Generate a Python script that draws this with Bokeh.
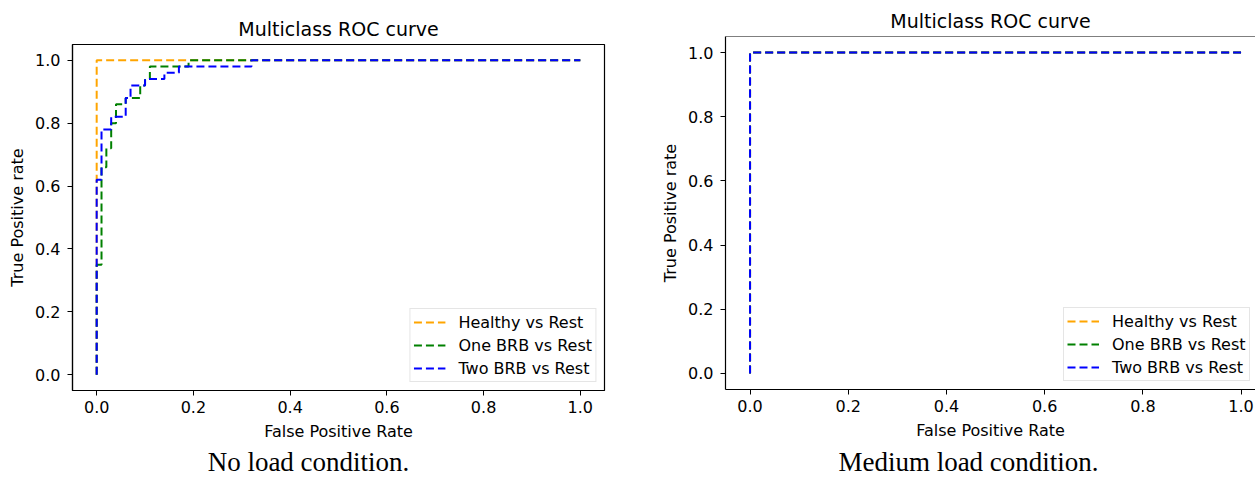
from bokeh.plotting import figure
from bokeh.layouts import row, column
from bokeh.models import FixedTicker, NumeralTickFormatter, Span
from bokeh.core.properties import value
from bokeh.embed import file_html
from bokeh.resources import INLINE

# ---------------- data ----------------
ticks = [0.0, 0.2, 0.4, 0.6, 0.8, 1.0]
class_names = ["Healthy vs Rest", "One BRB vs Rest", "Two BRB vs Rest"]
class_colors = ["orange", "green", "blue"]
titles = ["Multiclass ROC curve", "Multiclass ROC curve"]
captions = ["No load condition.", "Medium load condition."]

# No load condition
noload_healthy_fpr = [0.0, 0.0, 0.0, 1.0]
noload_healthy_tpr = [0.0, 0.63, 1.0, 1.0]
noload_one_fpr = [0.0, 0.0, 0.01, 0.01, 0.02, 0.02, 0.03, 0.03, 0.04, 0.04, 0.06,
                  0.06, 0.09, 0.09, 0.10, 0.10, 0.11, 0.11, 0.19, 0.19, 1.0]
noload_one_tpr = [0.0, 0.35, 0.35, 0.66, 0.66, 0.72, 0.72, 0.80, 0.80, 0.86, 0.86,
                  0.88, 0.88, 0.92, 0.92, 0.94, 0.94, 0.98, 0.98, 1.0, 1.0]
noload_two_fpr = [0.0, 0.0, 0.01, 0.01, 0.03, 0.03, 0.06, 0.06, 0.07, 0.07, 0.10,
                  0.10, 0.14, 0.14, 0.17, 0.17, 0.32, 0.32, 1.0]
noload_two_tpr = [0.0, 0.62, 0.62, 0.78, 0.78, 0.82, 0.82, 0.88, 0.88, 0.92, 0.92,
                  0.94, 0.94, 0.96, 0.96, 0.98, 0.98, 1.0, 1.0]

# Medium load condition
medium_healthy_fpr = [0.0, 0.0, 1.0]
medium_healthy_tpr = [0.0, 1.0, 1.0]
medium_one_fpr = [0.0, 0.0, 1.0]
medium_one_tpr = [0.0, 1.0, 1.0]
medium_two_fpr = [0.0, 0.0, 1.0]
medium_two_tpr = [0.0, 1.0, 1.0]

FONT = "DejaVu Sans"
MAIN_H = 446
CAP_H = 31


def make_panel(width, mbl, mbr, mbt, mbb, x_end, curves, title, caption,
               cap_px_x, legend_loc, show_outline=True):
    y0, y1 = -0.05, 1.05
    x0 = -0.05
    p = figure(width=width, height=MAIN_H, x_range=(x0, x_end), y_range=(y0, y1),
               output_backend="svg", toolbar_location=None,
               min_border_left=mbl, min_border_right=mbr,
               min_border_top=mbt, min_border_bottom=mbb)
    p.background_fill_color = "white"
    p.border_fill_color = "white"
    p.xgrid.visible = False
    p.ygrid.visible = False
    if show_outline:
        p.outline_line_color = "black"
        p.outline_line_width = 1.2
        p.outline_line_alpha = 1.0
    else:
        p.outline_line_color = None
        p.add_layout(Span(location=y1, dimension="width", line_color="black",
                          line_width=1.2))

    p.title.text = title
    p.title.align = "center"
    p.title.text_font = FONT
    p.title.text_font_size = "19px"
    p.title.text_font_style = "normal"
    p.title.text_color = "black"
    p.title.standoff = 9

    for ax in (p.xaxis[0], p.yaxis[0]):
        ax.ticker = FixedTicker(ticks=ticks)
        ax.formatter = NumeralTickFormatter(format="0.0")
        ax.minor_tick_line_color = None
        ax.major_tick_in = 0
        ax.major_tick_out = 5
        ax.major_tick_line_color = "black"
        ax.major_tick_line_width = 1
        ax.axis_line_color = "black"
        ax.axis_line_width = 1.2
        ax.major_label_text_font = FONT
        ax.major_label_text_font_size = "16px"
        ax.major_label_text_color = "black"
        ax.axis_label_text_font = FONT
        ax.axis_label_text_font_size = "16px"
        ax.axis_label_text_font_style = "normal"
        ax.axis_label_text_color = "black"
    p.xaxis.axis_label = "False Positive Rate"
    p.yaxis.axis_label = "True Positive rate"
    p.xaxis.major_label_standoff = 5
    p.xaxis.axis_label_standoff = 6
    p.yaxis.major_label_standoff = 7
    p.yaxis.axis_label_standoff = 5

    for (fx, ty), name, col in zip(curves, class_names, class_colors):
        p.line(fx, ty, line_color=col, line_width=2, line_dash="8 4",
               legend_label=name)

    lg = p.legend[0]
    lg.location = legend_loc
    lg.margin = 8
    lg.padding = 3
    lg.spacing = 3
    lg.glyph_width = 32
    lg.glyph_height = 20
    lg.label_height = 20
    lg.label_standoff = 13
    lg.label_text_font = FONT
    lg.label_text_font_size = "16px"
    lg.label_text_color = "black"
    lg.border_line_color = "#cccccc"
    lg.border_line_width = 1
    lg.background_fill_color = "white"
    lg.background_fill_alpha = 0.8

    # caption strip below, sharing the panel's x scale
    cap = figure(width=width, height=CAP_H, x_range=p.x_range, y_range=(0, CAP_H),
                 output_backend="svg", toolbar_location=None, title=None,
                 min_border_left=mbl, min_border_right=mbr,
                 min_border_top=0, min_border_bottom=0)
    cap.axis.visible = False
    cap.xgrid.visible = False
    cap.ygrid.visible = False
    cap.outline_line_color = None
    cap.background_fill_color = "white"
    cap.border_fill_color = "white"
    frame_w = width - mbl - mbr
    sx = frame_w / (x_end - x0)
    cap.text(x=[x0 + (cap_px_x - mbl) / sx], y=[15.5], text=[caption],
             text_align="center", text_baseline="middle",
             text_font=value("Liberation Serif"), text_font_size=value("27px"),
             text_color="black")
    return column(p, cap, spacing=0)


c1 = make_panel(width=620, mbl=72, mbr=16, mbt=44, mbb=56, x_end=1.05,
                curves=[(noload_healthy_fpr, noload_healthy_tpr),
                        (noload_one_fpr, noload_one_tpr),
                        (noload_two_fpr, noload_two_tpr)],
                title=titles[0], caption=captions[0], cap_px_x=308,
                legend_loc="bottom_right")

w2 = 635
mbl2 = 105
frame_w2 = w2 - mbl2
x_end2 = -0.05 + frame_w2 / 491.0
c2 = make_panel(width=w2, mbl=mbl2, mbr=0, mbt=36, mbb=57, x_end=x_end2,
                curves=[(medium_healthy_fpr, medium_healthy_tpr),
                        (medium_one_fpr, medium_one_tpr),
                        (medium_two_fpr, medium_two_tpr)],
                title=titles[1], caption=captions[1], cap_px_x=968 - 620,
                legend_loc=(338, 8), show_outline=False)

layout = row(c1, c2, spacing=0)
open("out.html", "w").write(file_html(layout, INLINE))
